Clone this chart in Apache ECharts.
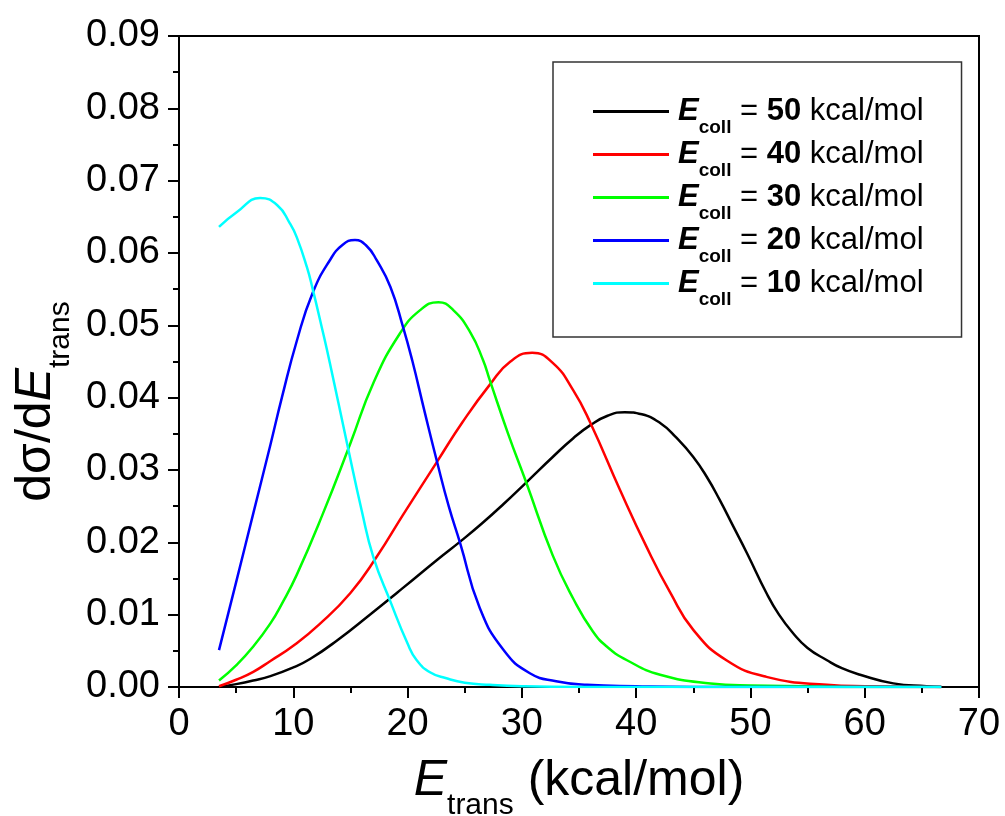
<!DOCTYPE html>
<html>
<head>
<meta charset="utf-8">
<script src="https://cdn.jsdelivr.net/npm/echarts@6/dist/echarts.min.js"></script>
<style>
  html, body { margin: 0; padding: 0; background: #fff; }
  #chart { width: 1005px; height: 816px; }
</style>
</head>
<body>
<div id="chart"></div>
<script>
// values (x in kcal/mol, y in dσ/dE)
const e50X = [3.5, 5, 6.5, 8, 10, 11.5, 13.8, 16.7, 19.6, 22.6, 24.6, 26.5, 28.4, 30.4, 32.7, 34.5, 36, 37.5, 39, 40.5, 42.1, 43.5, 45, 46.2, 47.3, 48.5, 49.7, 51.4, 52.5, 53.7, 55, 56.7, 58, 59.6, 62.5, 65.4, 66.7];
const e50Y = [0, 0.0004, 0.0009, 0.0015, 0.0027, 0.0039, 0.0064, 0.0100, 0.0137, 0.0176, 0.0201, 0.0226, 0.0253, 0.0283, 0.0318, 0.0344, 0.0362, 0.0375, 0.0380, 0.0377, 0.0365, 0.0345, 0.0318, 0.0290, 0.0259, 0.0222, 0.0185, 0.0130, 0.0100, 0.0075, 0.0054, 0.0037, 0.0026, 0.0017, 0.0005, 0.0001, 0];

const e40X = [3.5, 5, 6.5, 8, 10, 12.3, 15, 17.3, 19.6, 22.6, 24.8, 27.2, 29, 30.9, 32.7, 34.5, 36, 38.6, 40.9, 43, 45, 47.9, 51.4, 56.7, 60, 66.7];
const e40Y = [0.0001, 0.0010, 0.0021, 0.0036, 0.0057, 0.0087, 0.0130, 0.0180, 0.0238, 0.0312, 0.0366, 0.0418, 0.0450, 0.0462, 0.0448, 0.0410, 0.0365, 0.0272, 0.0194, 0.0130, 0.0079, 0.0037, 0.0014, 0.0003, 0.0001, 0];

const e30X = [3.5, 5, 6.5, 8, 9, 10.3, 12.6, 15, 17, 19.3, 21.1, 22.7, 24, 25.5, 26.6, 27.2, 28.8, 30.4, 32.7, 34.5, 36.2, 37.5, 39.2, 42.1, 46.5, 50, 55, 60, 66.7];
const e30Y = [0.0009, 0.0030, 0.0056, 0.0088, 0.0115, 0.0155, 0.0240, 0.0337, 0.0420, 0.0488, 0.0521, 0.0532, 0.0521, 0.0490, 0.0452, 0.0424, 0.0350, 0.0282, 0.0182, 0.0122, 0.0077, 0.0055, 0.0037, 0.0017, 0.0005, 0.0002, 0.0001, 0, 0];

const e20X = [3.5, 5, 6.5, 8, 9, 10.3, 11.7, 13.2, 14.3, 15.4, 16.4, 17.3, 18.5, 19.6, 20.4, 21.5, 22.6, 23.6, 24.6, 26.3, 28.4, 30.7, 33, 35.7, 40, 45, 66.7];
const e20Y = [0.0051, 0.0145, 0.0240, 0.0335, 0.0400, 0.0478, 0.0545, 0.0590, 0.0611, 0.0618, 0.0610, 0.0590, 0.0553, 0.0498, 0.0452, 0.0380, 0.0310, 0.0250, 0.0199, 0.0110, 0.0051, 0.0019, 0.0008, 0.0003, 0.0001, 0, 0];

const e10X = [3.5, 5.1, 7.1, 8.6, 9.7, 10.3, 11.2, 11.7, 12.6, 13.2, 14.7, 16, 17, 18.5, 20, 20.8, 22, 23.4, 25, 27.2, 30, 35, 40, 50, 60, 66.7];
const e10Y = [0.0636, 0.0657, 0.0676, 0.0666, 0.0641, 0.0622, 0.0580, 0.0550, 0.0490, 0.0448, 0.0337, 0.0243, 0.0180, 0.0118, 0.0060, 0.0037, 0.0020, 0.0012, 0.0006, 0.0003, 0.0001, 0, 0, 0, 0, 0];

const collEnergies = ['50', '40', '30', '20', '10'];
const seriesColors = ['#000000', '#ff0000', '#00ff00', '#0000ff', '#00ffff'];
const seriesX = [e50X, e40X, e30X, e20X, e10X];
const seriesY = [e50Y, e40Y, e30Y, e20Y, e10Y];

const xTicks = { min: 0, max: 70, interval: 10 };
const yTicks = { min: 0, max: 0.09, interval: 0.01 };

const chart = echarts.init(document.getElementById('chart'));

const font = 'Liberation Sans, Arial, sans-serif';

// rich styles for the big axis titles, subscript pushed down with top padding
const titleRich = {
  e: { fontSize: 50, fontStyle: 'italic', lineHeight: 60, color: '#000', fontFamily: font },
  s: { fontSize: 30, lineHeight: 10, padding: [50, 0, 0, 0], color: '#000', fontFamily: font },
  n: { fontSize: 50, lineHeight: 60, color: '#000', fontFamily: font }
};

chart.setOption({
  backgroundColor: '#fff',
  animation: false,
  grid: {
    left: 179, right: 26, top: 36, bottom: 129,
    outerBoundsMode: 'none',
    show: true, borderColor: '#000', borderWidth: 2
  },
  legend: {
    orient: 'vertical',
    left: 553, top: 62,
    padding: [24, 38, 28, 40],
    borderColor: '#333', borderWidth: 1.5,
    icon: 'rect',
    itemWidth: 76, itemHeight: 3,
    itemGap: -8,
    data: collEnergies.map(e => 'E' + e),
    formatter: name => '{e|E}{s|coll}{n| = }{b|' + name.slice(1) + '}{n| kcal/mol}',
    textStyle: {
      fontFamily: font,
      lineHeight: 42,
      rich: {
        e: { fontSize: 31, fontWeight: 'bold', fontStyle: 'italic', lineHeight: 42, padding: [0, 0, 0, 4], color: '#000', fontFamily: font },
        s: { fontSize: 19, fontWeight: 'bold', lineHeight: 8, padding: [32, 0, 0, 0], color: '#000', fontFamily: font },
        n: { fontSize: 31, lineHeight: 42, color: '#000', fontFamily: font },
        b: { fontSize: 31, fontWeight: 'bold', lineHeight: 42, color: '#000', fontFamily: font }
      }
    }
  },
  xAxis: {
    type: 'value',
    min: xTicks.min, max: xTicks.max, interval: xTicks.interval,
    name: '{e|E}{s|trans}{n| (kcal/mol)}',
    nameLocation: 'middle',
    nameGap: 64,
    nameMoveOverlap: false,
    nameTextStyle: { rich: titleRich },
    splitLine: { show: false },
    axisLine: { lineStyle: { color: '#000', width: 2 } },
    axisTick: { length: 11, lineStyle: { color: '#000', width: 2 } },
    minorTick: { show: true, splitNumber: 2, length: 6, lineStyle: { color: '#000', width: 2 } },
    axisLabel: { fontSize: 38, color: '#000', margin: 19, fontFamily: font }
  },
  yAxis: {
    type: 'value',
    min: yTicks.min, max: yTicks.max, interval: yTicks.interval,
    name: '{n|dσ/d}{e|E}{s|trans}',
    nameLocation: 'middle',
    nameGap: 113,
    nameMoveOverlap: false,
    nameTextStyle: {
      padding: [0, 80, 0, 0],
      rich: titleRich
    },
    splitLine: { show: false },
    axisLine: { lineStyle: { color: '#000', width: 2 } },
    axisTick: { length: 11, lineStyle: { color: '#000', width: 2 } },
    minorTick: { show: true, splitNumber: 2, length: 6, lineStyle: { color: '#000', width: 2 } },
    axisLabel: {
      fontSize: 38, color: '#000', margin: 19, fontFamily: font,
      formatter: v => v.toFixed(2)
    }
  },
  series: collEnergies.map((e, i) => ({
    name: 'E' + e,
    type: 'line',
    showSymbol: false,
    smooth: 0.5,
    color: seriesColors[i],
    lineStyle: { width: 2.5, color: seriesColors[i] },
    data: seriesX[i].map((x, j) => [x, seriesY[i][j]])
  }))
});
</script>
</body>
</html>
